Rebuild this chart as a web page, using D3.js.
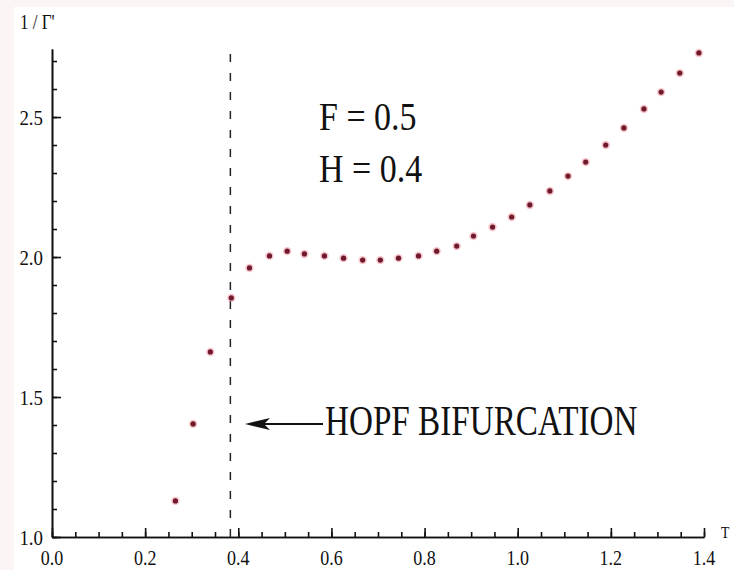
<!DOCTYPE html>
<html>
    <head>
        <script src="https://cdn.jsdelivr.net/npm/d3@7"></script>
        <style>
            body { margin:0; background:#fcf5f5; }
            svg { display:block; }
            text { font-family:"Times New Roman", "Liberation Serif", Times, "DejaVu Serif", serif; fill:#111; }
        </style>
    </head>
    <body>
        <svg id="chart" width="734" height="570"></svg>
        <script>
            // values
            var temps = [0.265, 0.303, 0.340, 0.385, 0.424, 0.467, 0.505, 0.542, 0.585, 0.626,
                         0.667, 0.705, 0.744, 0.787, 0.826, 0.869, 0.905, 0.946, 0.987, 1.026,
                         1.069, 1.108, 1.146, 1.189, 1.228, 1.271, 1.308, 1.348, 1.389];
            var invGamma = [1.129, 1.404, 1.661, 1.854, 1.961, 2.004, 2.021, 2.011, 2.004, 1.996,
                            1.989, 1.989, 1.996, 2.004, 2.021, 2.039, 2.075, 2.107, 2.143, 2.186,
                            2.236, 2.289, 2.339, 2.400, 2.461, 2.529, 2.589, 2.657, 2.729];
            var xTicks = [0.0, 0.2, 0.4, 0.6, 0.8, 1.0, 1.2, 1.4];
            var yTicks = [1.0, 1.5, 2.0, 2.5];
            var hopfT = 0.383;
            var params = ["F = 0.5", "H = 0.4"];

            var svg = d3.select("#chart");
            svg.append("rect").attr("x", 14).attr("y", 7).attr("width", 720).attr("height", 563).attr("fill", "#fff");

            var x = d3.scaleLinear().domain([0, 1.4]).range([52, 704]);
            var y = d3.scaleLinear().domain([1.0, 2.743]).range([537, 49]);

            var xMinor = d3.range(0, 1.4001, 0.05);
            var yMinor = d3.range(1.0, 2.7501, 0.1);

            // minor ticks first, then major on top
            svg.append("g").attr("transform", "translate(0," + y(1) + ")")
                .call(d3.axisBottom(x).tickValues(xMinor).tickSize(-5).tickSizeOuter(0).tickFormat(""));
            svg.append("g").attr("transform", "translate(0," + y(1) + ")")
                .call(d3.axisBottom(x).tickValues(xTicks).tickSize(-9).tickSizeOuter(0).tickFormat(""));
            svg.append("g").attr("transform", "translate(" + x(0) + ",0)")
                .call(d3.axisLeft(y).tickValues(yMinor).tickSize(-5).tickSizeOuter(0).tickFormat(""));
            svg.append("g").attr("transform", "translate(" + x(0) + ",0)")
                .call(d3.axisLeft(y).tickValues(yTicks).tickSize(-9).tickSizeOuter(0).tickFormat(""));
            svg.selectAll(".domain, .tick line").attr("stroke", "#111").attr("stroke-width", 1.6);

            // tick labels
            svg.selectAll(".xlab").data(xTicks).enter().append("text")
                .attr("transform", function(d){ return "translate(" + x(d) + ",565) scale(0.9,1)"; })
                .attr("text-anchor", "middle").attr("font-size", 20)
                .text(function(d){ return d.toFixed(1); });
            svg.selectAll(".ylab").data(yTicks).enter().append("text")
                .attr("transform", function(d){ return "translate(43," + (y(d) + 8) + ") scale(0.9,1)"; })
                .attr("text-anchor", "end").attr("font-size", 21)
                .text(function(d){ return d.toFixed(1); });

            svg.append("text").attr("transform", "translate(20,29) scale(0.85,1)")
                .attr("font-size", 20).text("1 / Γ'");
            svg.append("text").attr("transform", "translate(721,538) scale(0.85,1)")
                .attr("font-size", 16).text("T");

            // hopf line
            svg.append("line")
                .attr("x1", x(hopfT)).attr("x2", x(hopfT))
                .attr("y1", y(1)).attr("y2", 50)
                .attr("stroke", "#222").attr("stroke-width", 1.5)
                .attr("stroke-dasharray", "8,11");

            // points: pink halo + dark core
            svg.selectAll(".halo").data(temps).enter().append("circle")
                .attr("cx", function(d){ return x(d); })
                .attr("cy", function(d, i){ return y(invGamma[i]); })
                .attr("r", 4.2).attr("fill", "#f08090").attr("fill-opacity", 0.45);
            svg.selectAll(".dot").data(temps).enter().append("circle")
                .attr("cx", function(d){ return x(d); })
                .attr("cy", function(d, i){ return y(invGamma[i]); })
                .attr("r", 2.6).attr("fill", "#6e1a2c");

            // parameter text
            svg.selectAll(".param").data(params).enter().append("text")
                .attr("transform", function(d, i){ return "translate(319," + (130 + i * 52) + ") scale(0.85,1)"; })
                .attr("font-size", 40)
                .text(function(d){ return d; });

            // arrow + label
            var ay = 424;
            svg.append("line").attr("x1", 323).attr("x2", 262).attr("y1", ay).attr("y2", ay)
                .attr("stroke", "#111").attr("stroke-width", 2);
            svg.append("path")
                .attr("d", "M245," + ay + " L270," + (ay - 6) + " L264," + ay + " L270," + (ay + 6) + " Z")
                .attr("fill", "#111");
            svg.append("text").attr("transform", "translate(325,435) scale(0.79,1)")
                .attr("font-size", 42).text("HOPF BIFURCATION");
        </script>
    </body>
</html>
